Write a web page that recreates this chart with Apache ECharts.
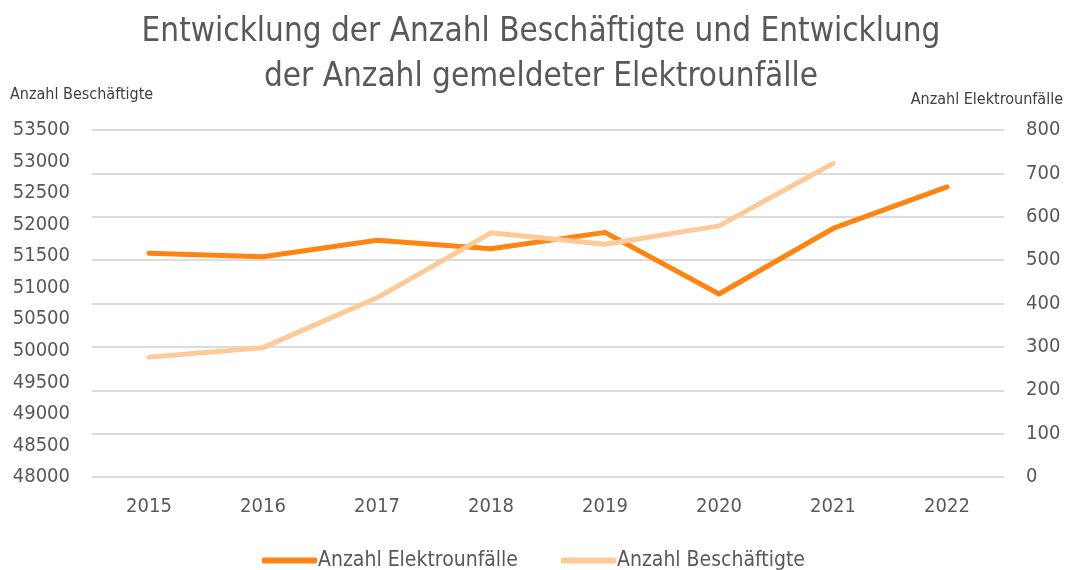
<!DOCTYPE html>
<html>
<head>
<meta charset="utf-8">
<script src="https://cdn.jsdelivr.net/npm/echarts@6/dist/echarts.min.js"></script>
<style>
  html, body { margin: 0; padding: 0; background: #fff; }
  #chart { width: 1067px; height: 570px; }
</style>
</head>
<body>
<div id="chart"></div>
<script>
const years = ['2015', '2016', '2017', '2018', '2019', '2020', '2021', '2022'];
const elektrounfaelle = [516, 508, 546, 526, 564, 422, 573, 669];
const beschaeftigte = [49900, 50050, 50840, 51870, 51690, 51980, 52970, null];

const font = '"Liberation Sans Narrow", "DejaVu Sans Condensed", sans-serif';
const grey = '#595959';

const chart = echarts.init(document.getElementById('chart'));

chart.setOption({
  backgroundColor: '#fff',
  title: {
    text: 'Entwicklung der Anzahl Beschäftigte und Entwicklung\nder Anzahl gemeldeter Elektrounfälle',
    left: 536,
    textAlign: 'center',
    top: 5,
    textStyle: {
      fontFamily: font,
      fontSize: 33,
      fontWeight: 'normal',
      color: grey,
      lineHeight: 45,
    },
  },
  graphic: [
    {
      type: 'text',
      left: 10,
      top: 87,
      style: { text: 'Anzahl Beschäftigte', font: '16px ' + font, fill: '#404040' },
    },
    {
      type: 'text',
      right: 4,
      top: 92,
      style: { text: 'Anzahl Elektrounfälle', font: '16px ' + font, fill: '#404040' },
    },
  ],
  legend: {
    bottom: -6,
    left: 'center',
    itemWidth: 55,
    itemHeight: 6,
    itemGap: 43,
    icon: 'roundRect',
    textStyle: { fontFamily: font, fontSize: 21, color: grey, padding: [0, 0, 0, -4] },
    data: ['Anzahl Elektrounfälle', 'Anzahl Beschäftigte'],
  },
  grid: { left: 92, right: 63, top: 130, bottom: 93 },
  xAxis: {
    type: 'category',
    data: years,
    axisLine: { show: false },
    axisTick: { show: false },
    axisLabel: { color: grey, fontFamily: font, fontSize: 20, margin: 20 },
  },
  yAxis: [
    {
      type: 'value',
      min: 48000,
      max: 53500,
      interval: 500,
      position: 'left',
      splitLine: { show: false },
      axisLine: { show: false },
      axisTick: { show: false },
      axisLabel: { color: grey, fontFamily: font, fontSize: 20, margin: 22, formatter: v => String(v) },
    },
    {
      type: 'value',
      min: 0,
      max: 800,
      interval: 100,
      position: 'right',
      splitLine: { show: true, lineStyle: { color: '#dcdcdc', width: 2 } },
      axisLine: { show: false },
      axisTick: { show: false },
      axisLabel: { color: grey, fontFamily: font, fontSize: 20, margin: 22 },
    },
  ],
  series: [
    {
      name: 'Anzahl Elektrounfälle',
      type: 'line',
      yAxisIndex: 1,
      data: elektrounfaelle,
      symbol: 'none',
      lineStyle: { color: '#ff8411', width: 5, cap: 'round', join: 'round' },
      itemStyle: { color: '#ff8411' },
    },
    {
      name: 'Anzahl Beschäftigte',
      type: 'line',
      yAxisIndex: 0,
      data: beschaeftigte,
      symbol: 'none',
      lineStyle: { color: '#ffca9a', width: 5, cap: 'round', join: 'round' },
      itemStyle: { color: '#ffca9a' },
    },
  ],
});
</script>
</body>
</html>
